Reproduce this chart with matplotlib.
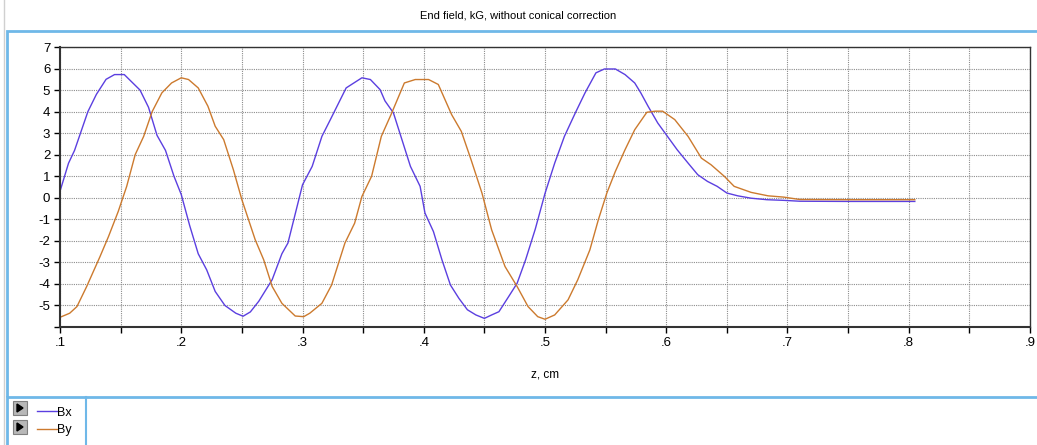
import matplotlib
matplotlib.use('Agg')
from matplotlib import pyplot as plt
from matplotlib.patches import Rectangle, Polygon
from matplotlib.lines import Line2D
from matplotlib.transforms import Bbox
import numpy as np

plt.rcParams['font.family'] = ['Liberation Sans', 'DejaVu Sans']

title = 'End field, kG, without conical correction'
x_label = 'z, cm'
series_names = ['Bx', 'By']
x_tick_labels = ['.1', '.2', '.3', '.4', '.5', '.6', '.7', '.8', '.9']
y_ticks = [-6, -5, -4, -3, -2, -1, 0, 1, 2, 3, 4, 5, 6, 7]

# values
z_bx = [.100, .107, .112, .123, .130, .138, .145, .153, .166, .173, .180, .187,
        .194, .200, .207, .214, .221, .228, .236, .245, .251, .257, .264, .275,
        .283, .288, .294, .300, .308, .316, .323, .336, .349, .356, .364, .368,
        .375, .382, .389, .397, .401, .408, .415, .422, .429, .436, .443, .450,
        .456, .462, .470, .477, .484, .492, .500, .508, .516, .525, .533, .542,
        .549, .558, .566, .574, .579, .585, .593, .601, .609, .618, .626, .634,
        .642, .650, .659, .670, .683, .697, .710, .750, .805]
bx = [0.3, 1.6, 2.2, 4.0, 4.8, 5.5, 5.72, 5.72, 5.0, 4.2, 2.9, 2.2,
      1.0, 0.15, -1.3, -2.6, -3.35, -4.35, -5.0, -5.36, -5.5, -5.3, -4.8, -3.8,
      -2.6, -2.1, -0.75, 0.6, 1.46, 2.85, 3.63, 5.1, 5.57, 5.49, 5.02, 4.5,
      3.94, 2.7, 1.46, 0.53, -0.71, -1.57, -2.88, -4.05, -4.67, -5.2, -5.44, -5.6,
      -5.44, -5.29, -4.59, -3.97, -2.88, -1.45, 0.2, 1.61, 2.85, 3.94, 4.87, 5.8,
      5.98, 5.98, 5.72, 5.33, 4.87, 4.25, 3.47, 2.85, 2.23, 1.61, 1.07, 0.76,
      0.53, 0.22, 0.09, -0.02, -0.09, -0.12, -0.16, -0.17, -0.17]

z_by = [.100, .108, .114, .122, .133, .140, .148, .155, .162, .169, .176, .184,
        .192, .200, .206, .214, .222, .228, .235, .243, .250, .261, .268, .275,
        .283, .294, .301, .306, .316, .324, .335, .343, .349, .357, .365, .373,
        .384, .393, .404, .412, .423, .431, .439, .448, .456, .467, .477, .486,
        .494, .500, .508, .519, .527, .537, .544, .551, .558, .566, .574, .584,
        .591, .597, .607, .618, .629, .637, .648, .656, .670, .684, .697, .710,
        .750, .805]
by = [-5.55, -5.36, -5.05, -4.12, -2.73, -1.8, -0.64, 0.53, 2.0, 2.85, 4.0, 4.87,
      5.33, 5.57, 5.49, 5.1, 4.25, 3.32, 2.7, 1.3, -0.09, -1.95, -2.88, -4.12,
      -4.9, -5.49, -5.52, -5.36, -4.9, -4.05, -2.1, -1.18, 0.06, 1.0, 2.85, 3.86,
      5.33, 5.49, 5.49, 5.26, 3.86, 3.08, 1.77, 0.22, -1.49, -3.19, -4.12, -5.05,
      -5.52, -5.64, -5.44, -4.74, -3.81, -2.42, -1.02, 0.22, 1.22, 2.23, 3.16, 3.97,
      4.02, 4.02, 3.63, 2.85, 1.84, 1.53, 0.99, 0.53, 0.25, 0.09, 0.03, -0.08,
      -0.09, -0.09]

colors = ['#5b3fe0', '#cc7a2e']

W, H = 1037, 445
fig = plt.figure(figsize=(W / 100, H / 100), dpi=100)


def fx(px):
    return px / W


def fy(py):
    return 1 - py / H


ax = fig.add_axes([fx(60), fy(327), fx(1030) - fx(60), fy(47) - fy(327)])
ax.plot(z_bx, bx, color=colors[0], lw=1.0)
ax.plot(z_by, by, color=colors[1], lw=1.0)

ax.set_xlim(.1, .9)
ax.set_ylim(-6, 7)
ax.set_xticks(np.arange(.1, .901, .05))
xt = []
for lbl in x_tick_labels:
    xt += [lbl, '']
ax.set_xticklabels(xt[:-1])
ax.set_yticks(y_ticks)
ax.set_yticklabels([str(t) for t in y_ticks])
ax.grid(True, color='#8c8c8c', linestyle=(0, (1, 1)), linewidth=0.8)
ax.tick_params(direction='out', length=4, width=1, labelsize=9.5, pad=3)
for s in ax.spines.values():
    s.set_color('#333333')
    s.set_linewidth(1.0)
ax.spines['left'].set_linewidth(1.5)
ax.spines['bottom'].set_linewidth(1.5)
ax.set_xlabel(x_label, fontsize=8.5, labelpad=14)

# bottom "-6" label is cut off by the axis in the original
clip = Bbox.from_extents(0, fy(323) * H, fx(60) * W, H)
for lbl in ax.get_yticklabels():
    if lbl.get_text() == '-6':
        lbl.set_clip_on(True)
        lbl.set_clip_box(clip)

fig.text(0.5, fy(15), title, ha='center', va='center', fontsize=8)

# window frame
blue = '#6fb8e8'
fig.add_artist(Line2D([fx(4), fx(4)], [fy(0), fy(445)], color='#d0d0d0', lw=1))
fig.add_artist(Rectangle((fx(7), fy(397)), fx(1040) - fx(7), fy(31) - fy(397),
                         fill=False, edgecolor=blue, lw=2))
fig.add_artist(Line2D([fx(7), fx(7)], [fy(397), fy(445)], color=blue, lw=2))
fig.add_artist(Line2D([fx(86), fx(86)], [fy(397), fy(445)], color=blue, lw=1.5))

# legend buttons
for py in [408, 427]:
    fig.add_artist(Rectangle((fx(13), fy(py + 7)), fx(14), fy(0) - fy(14),
                             facecolor='#b8b8b8', edgecolor='#808080', lw=0.8))
    fig.add_artist(Polygon([[fx(17), fy(py - 4)], [fx(17), fy(py + 4)],
                            [fx(23), fy(py)]], closed=True, color='black'))

handles = [Line2D([], [], color=c, lw=1.0) for c in colors]
fig.legend(handles, series_names, loc='upper left',
           bbox_to_anchor=(fx(28), fy(398)), frameon=False, fontsize=9,
           handlelength=1.6, handletextpad=0.05, labelspacing=0.45,
           borderpad=0.2)

fig.savefig('out.png', dpi=100)
